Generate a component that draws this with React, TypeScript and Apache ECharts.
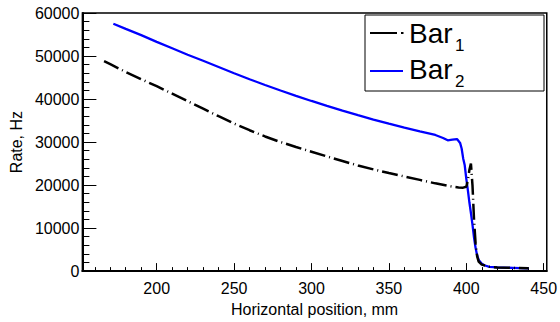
import React, { useEffect, useRef } from "react";
import * as echarts from "echarts";

// Bar_1 (black, dash-dot): [position mm, rate Hz]
const bar1X = [166, 170, 180, 190, 200, 210, 220, 230, 240, 250, 260, 270, 280, 290, 300, 310, 320, 330, 340, 350, 360, 370, 380, 390, 395, 398, 400, 401, 402, 403, 404, 405, 406, 407, 408, 410, 415, 420, 430, 440];
const bar1Y = [48800, 48100, 46300, 44600, 43000, 41250, 39500, 37750, 36000, 34300, 32750, 31300, 30000, 28850, 27750, 26650, 25600, 24550, 23650, 22800, 22000, 21200, 20400, 19700, 19450, 19400, 19600, 21000, 23500, 25000, 20000, 12000, 6500, 3500, 2200, 1500, 1000, 850, 750, 650];

// Bar_2 (blue, solid)
const bar2X = [172, 180, 190, 200, 210, 220, 230, 240, 250, 260, 270, 280, 290, 300, 310, 320, 330, 340, 350, 360, 370, 380, 385, 388, 391, 394, 396, 397, 398, 399, 400, 401, 402, 403, 404, 405, 406, 407, 408, 410, 412, 415, 420, 430, 440];
const bar2Y = [57500, 56300, 54850, 53300, 51800, 50300, 48900, 47450, 46000, 44600, 43270, 41980, 40740, 39550, 38400, 37300, 36240, 35230, 34260, 33340, 32470, 31640, 30950, 30400, 30550, 30700, 29800, 28500, 26200, 24600, 21500, 18900, 16000, 13500, 10800, 7800, 5400, 3700, 2600, 1700, 1300, 1000, 850, 750, 650];

const xMajorTicks = [200, 250, 300, 350, 400, 450];
const xMinorTicks = [160, 170, 180, 190, 210, 220, 230, 240, 260, 270, 280, 290, 310, 320, 330, 340, 360, 370, 380, 390, 410, 420, 430, 440];
const xMin = 152;
const xMax = 452;
const yMin = 0;
const yMax = 60000;
const yInterval = 10000;

const seriesNames = ["Bar", "Bar"];
const seriesSubs = ["1", "2"];

const FONT = "'Liberation Sans', Arial, sans-serif";

export default function App() {
  const ref = useRef<HTMLDivElement>(null);
  useEffect(() => {
    if (!ref.current) return;
    const chart = echarts.init(ref.current, undefined, { renderer: "svg" });
    const d1 = bar1X.map((x, i) => [x, bar1Y[i]]);
    const d2 = bar2X.map((x, i) => [x, bar2Y[i]]);
    chart.setOption({
      animation: false,
      backgroundColor: "#fff",
      textStyle: { fontFamily: FONT },
      grid: {
        left: 79,
        right: 12,
        top: 13,
        bottom: 42,
        show: true,
        borderColor: "#000",
        borderWidth: 1.5,
        backgroundColor: "transparent",
      },
      xAxis: [
        {
          type: "value",
          min: xMin,
          max: xMax,
          name: "Horizontal position, mm",
          nameLocation: "middle",
          nameGap: 24,
          nameTextStyle: { fontSize: 16, color: "#000", fontFamily: FONT },
          axisLine: { show: true, onZero: false, lineStyle: { color: "#000", width: 2 } },
          axisTick: { show: true, inside: true, length: 8, customValues: xMajorTicks, lineStyle: { color: "#000", width: 1 } },
          axisLabel: { show: true, customValues: xMajorTicks, fontSize: 16, color: "#000", margin: 9, fontFamily: FONT },
          splitLine: { show: false },
        },
        {
          type: "value",
          min: xMin,
          max: xMax,
          position: "bottom",
          axisLine: { show: false },
          axisTick: { show: true, inside: true, length: 4, customValues: xMinorTicks, lineStyle: { color: "#000", width: 1 } },
          axisLabel: { show: false },
          splitLine: { show: false },
        },
      ],
      yAxis: {
        type: "value",
        min: yMin,
        max: yMax,
        interval: yInterval,
        name: "Rate, Hz",
        nameLocation: "middle",
        nameGap: 50,
        nameTextStyle: { fontSize: 16, color: "#000", fontFamily: FONT },
        axisLine: { show: true, onZero: false, lineStyle: { color: "#000", width: 2 } },
        axisTick: { show: true, inside: true, length: 14, lineStyle: { color: "#000", width: 1 } },
        minorTick: { show: true, splitNumber: 5, length: 7, lineStyle: { color: "#000", width: 1 } },
        axisLabel: {
          fontSize: 16,
          color: "#000",
          margin: 3,
          fontFamily: FONT,
          padding: [3, 0, 0, 0],
          formatter: (v: number) => String(v),
        },
        splitLine: { show: false },
        minorSplitLine: { show: false },
      },
      series: [
        {
          name: "Bar1",
          type: "line",
          xAxisIndex: 0,
          data: d1,
          showSymbol: false,
          lineStyle: { color: "#000", width: 2.5, type: [16, 4, 1, 4] },
          z: 3,
        },
        {
          name: "Bar2",
          type: "line",
          xAxisIndex: 0,
          data: d2,
          showSymbol: false,
          lineStyle: { color: "#0000ff", width: 2.3 },
          z: 2,
        },
      ],
      graphic: [
        {
          type: "rect",
          shape: { x: 365, y: 15, width: 179, height: 76 },
          style: { fill: "#fff", stroke: "#000", lineWidth: 1 },
          z: 10,
        },
        { type: "line", shape: { x1: 370, y1: 33, x2: 397, y2: 33 }, style: { stroke: "#000", lineWidth: 2 }, z: 11 },
        { type: "line", shape: { x1: 401, y1: 33, x2: 403.5, y2: 33 }, style: { stroke: "#000", lineWidth: 2 }, z: 11 },
        { type: "line", shape: { x1: 370, y1: 71, x2: 403, y2: 71 }, style: { stroke: "#0000ff", lineWidth: 2 }, z: 11 },
        {
          type: "text", x: 409, y: 33, z: 11,
          style: { text: seriesNames[0], font: `28px ${FONT}`, fill: "#000", verticalAlign: "middle", align: "left" },
        },
        {
          type: "text", x: 455, y: 45.5, z: 11,
          style: { text: seriesSubs[0], font: `17px ${FONT}`, fill: "#000", verticalAlign: "middle", align: "left" },
        },
        {
          type: "text", x: 409, y: 69, z: 11,
          style: { text: seriesNames[1], font: `28px ${FONT}`, fill: "#000", verticalAlign: "middle", align: "left" },
        },
        {
          type: "text", x: 455, y: 81.5, z: 11,
          style: { text: seriesSubs[1], font: `17px ${FONT}`, fill: "#000", verticalAlign: "middle", align: "left" },
        },
      ],
    });
    return () => chart.dispose();
  }, []);
  return (
    <div
      ref={ref}
      style={{ width: 560, height: 322, position: "fixed", left: 0, top: 0 }}
    />
  );
}
